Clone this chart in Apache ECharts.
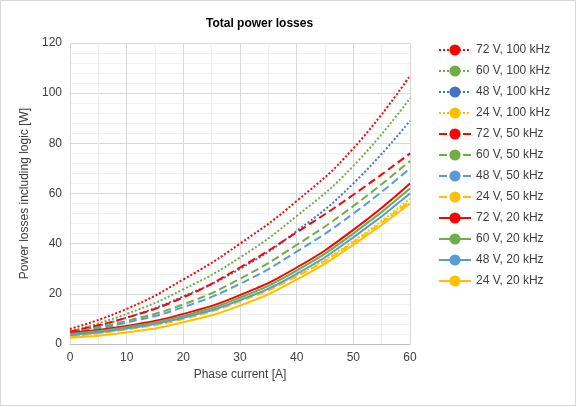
<!DOCTYPE html><html><head><meta charset="utf-8">
<script src="https://cdn.jsdelivr.net/npm/echarts@6/dist/echarts.min.js"></script>
<style>html,body{margin:0;padding:0}#c{width:576px;height:406px;box-sizing:border-box;border:1px solid #d9d9d9}</style></head><body><div id="c"></div><script>
const current=[0,10,20,30,40,50,60];
const names=["72 V, 100 kHz","60 V, 100 kHz","48 V, 100 kHz","24 V, 100 kHz","72 V, 50 kHz","60 V, 50 kHz","48 V, 50 kHz","24 V, 50 kHz","72 V, 20 kHz","60 V, 20 kHz","48 V, 20 kHz","24 V, 20 kHz"];
const v72_100=[6,14,25.7,40,57,78,107];
const v60_100=[5,12,21.8,34.5,51,71,98];
const v48_100=[4.5,10.5,19,30,45,64,89];
const v24_100=[3,6,10.5,17.5,27.5,41,58];
const v72_50=[5,10.5,18.6,30.5,44.5,59.5,76];
const v60_50=[4.5,9.2,15.8,26,39.5,55,73];
const v48_50=[4,8.5,14.7,24,36.8,52,70];
const v24_50=[3,5.8,10,17,27,40.5,57];
const v72_20=[4.5,7.2,12,19.5,30.5,45.5,64];
const v60_20=[4,6.7,11.2,18.5,29.3,44,62];
const v48_20=[3.5,6.2,10.5,17.5,28,42.5,60];
const v24_20=[2.5,4.6,8.7,15.3,25.7,39.5,56];
const vals=[v72_100,v60_100,v48_100,v24_100,v72_50,v60_50,v48_50,v24_50,v72_20,v60_20,v48_20,v24_20];
const cols=["#ff0000","#70ad47","#4472c4","#ffc000"];
const styles=["dotted","dashed","solid"];
const series=vals.map((v,i)=>{const c=(i%4===2&&i>=4)?"#5b9bd5":cols[i%4];return {name:names[i],type:'line',symbol:'none',smooth:true,
 data:v.map((y,j)=>[current[j],y]),
 lineStyle:{color:c,type:styles[Math.floor(i/4)],width:2},itemStyle:{color:c}};});
const lab={color:'#404040',fontSize:12,fontFamily:'Liberation Sans, Arial'};
echarts.init(document.getElementById('c')).setOption({animation:false,
 title:{text:'Total power losses',left:200,top:12,textStyle:{fontSize:12,fontWeight:'bold',color:'#000',fontFamily:'Liberation Sans'}},
 grid:{left:69,right:165,top:42,bottom:61},
 legend:{orient:'vertical',left:432,top:38,itemGap:9,itemWidth:32,itemHeight:14,textStyle:lab,data:names},
 xAxis:{type:'value',min:0,max:60,interval:10,name:'Phase current [A]',nameLocation:'middle',nameGap:22,nameTextStyle:lab,
  axisLabel:lab,axisLine:{lineStyle:{color:'#bfbfbf'}},axisTick:{show:false},
  splitLine:{lineStyle:{color:'#d9d9d9'}},minorTick:{show:false,splitNumber:2},minorSplitLine:{show:true,lineStyle:{color:'#f0f0f0'}}},
 yAxis:{type:'value',min:0,max:120,interval:20,name:'Power losses including logic [W]',nameLocation:'middle',nameGap:36,nameTextStyle:lab,
  axisLabel:lab,axisLine:{show:false},axisTick:{show:false},
  splitLine:{lineStyle:{color:'#d9d9d9'}},minorTick:{show:false,splitNumber:5},minorSplitLine:{show:true,lineStyle:{color:'#f0f0f0'}}},
 series});
</script></body></html>
